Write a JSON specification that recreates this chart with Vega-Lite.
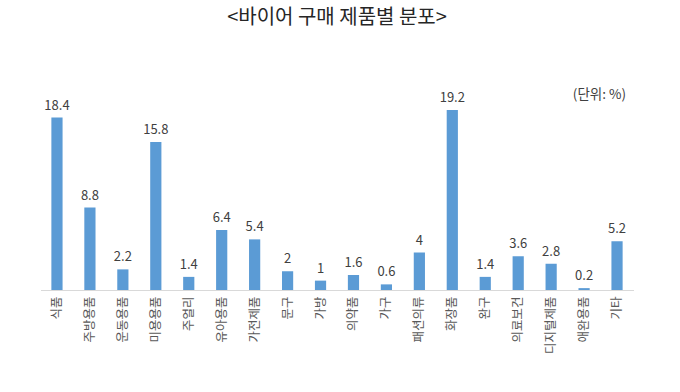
{
  "$schema": "https://vega.github.io/schema/vega-lite/v6.json",
  "width": 593,
  "height": 187.5,
  "autosize": {"type": "none"},
  "padding": {"left": 40.5, "top": 102.5, "right": 46.5, "bottom": 102},
  "background": "white",
  "config": {
    "font": "Noto Sans CJK KR",
    "view": {"stroke": null}
  },
  "title": {
    "text": "<바이어 구매 제품별 분포>",
    "fontSize": 20,
    "fontWeight": "normal",
    "color": "#262626",
    "offset": 60,
    "anchor": "middle"
  },
  "data": {
    "values": [
      {"category": "식품", "value": 18.4},
      {"category": "주방용품", "value": 8.8},
      {"category": "운동용품", "value": 2.2},
      {"category": "미용용품", "value": 15.8},
      {"category": "주얼리", "value": 1.4},
      {"category": "유아용품", "value": 6.4},
      {"category": "가전제품", "value": 5.4},
      {"category": "문구", "value": 2},
      {"category": "가방", "value": 1},
      {"category": "의약품", "value": 1.6},
      {"category": "가구", "value": 0.6},
      {"category": "패션의류", "value": 4},
      {"category": "화장품", "value": 19.2},
      {"category": "완구", "value": 1.4},
      {"category": "의료보건", "value": 3.6},
      {"category": "디지털제품", "value": 2.8},
      {"category": "애완용품", "value": 0.2},
      {"category": "기타", "value": 5.2}
    ]
  },
  "encoding": {
    "x": {
      "field": "category",
      "type": "nominal",
      "sort": null,
      "scale": {"paddingInner": 0.66, "paddingOuter": 0.33},
      "axis": {
        "title": null,
        "labelAngle": -90,
        "labelFontSize": 12.5,
        "labelColor": "#595959",
        "labelPadding": 6,
        "ticks": false,
        "domainColor": "#d9d9d9",
        "domainWidth": 1
      }
    },
    "y": {
      "field": "value",
      "type": "quantitative",
      "scale": {"domain": [0, 20]},
      "axis": null
    }
  },
  "layer": [
    {
      "mark": {"type": "bar", "color": "#5b9bd5"}
    },
    {
      "mark": {"type": "text", "dy": -12, "fontSize": 13, "color": "#404040"},
      "encoding": {
        "text": {"field": "value", "type": "quantitative"}
      }
    },
    {
      "data": {"values": [{"category": "기타", "value": 20, "label": "(단위: %)"}]},
      "mark": {"type": "text", "align": "right", "dx": 9, "dy": -8, "fontSize": 13.5, "color": "#404040"},
      "encoding": {
        "text": {"field": "label", "type": "nominal"}
      }
    }
  ]
}
